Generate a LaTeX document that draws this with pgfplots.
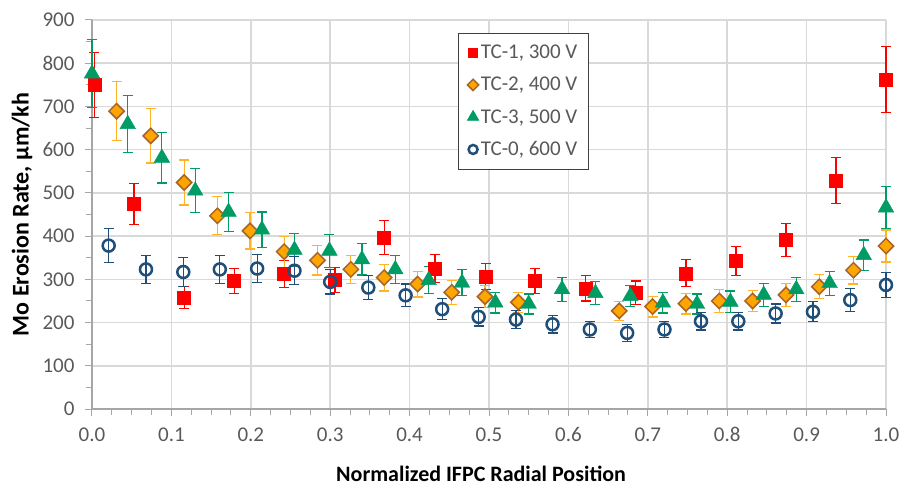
\documentclass[border=0pt]{standalone}
\usepackage{fontspec}
\setmainfont{Carlito}
\usepackage{pgfplots}
\usepackage{pgfplotstable}
\pgfplotsset{compat=1.18}

\definecolor{tcred}{RGB}{255,0,0}
\definecolor{tcorange}{RGB}{255,165,0}
\definecolor{tcbrown}{RGB}{166,100,40}
\definecolor{tcorbar}{RGB}{255,180,40}
\definecolor{tcgreen}{RGB}{0,156,100}
\definecolor{tcblue}{RGB}{31,78,121}
\definecolor{gridgray}{RGB}{217,217,217}
\definecolor{axgray}{RGB}{166,166,166}
\definecolor{txtgray}{RGB}{89,89,89}

% TC-1, 300 V
\pgfplotstableread{
x y e
0.003 750 75
0.053 474 48
0.116 258 26
0.179 296 29
0.242 313 31
0.306 298 29
0.368 397 40
0.432 325 32
0.496 306 30
0.558 296 29
0.622 279 29
0.685 269 27
0.748 314 31
0.811 342 34
0.874 391 39
0.937 529 53
1.000 762 76
}\tcone

% TC-2, 400 V
\pgfplotstableread{
x y e
0.031 689 68
0.074 632 63
0.116 524 52
0.158 447 44
0.199 412 42
0.242 364 36
0.284 344 34
0.326 323 32
0.368 304 31
0.410 289 30
0.453 270 28
0.495 260 25
0.537 247 23
0.664 227 22
0.706 237 24
0.748 244 24
0.790 250 26
0.832 250 25
0.874 264 27
0.916 283 28
0.959 321 32
1.000 377 37
}\tctwo

% TC-3, 500 V
\pgfplotstableread{
x y e
0.000 776 78
0.045 659 66
0.088 581 58
0.130 505 51
0.172 456 45
0.214 415 41
0.255 368 38
0.299 366 38
0.340 346 36
0.382 323 32
0.424 298 31
0.466 292 30
0.508 246 24
0.550 243 23
0.592 277 28
0.634 268 27
0.678 261 24
0.719 246 24
0.762 243 23
0.804 248 25
0.846 264 26
0.887 277 28
0.929 291 28
0.972 356 35
1.000 466 48
}\tcthree

% TC-0, 600 V
\pgfplotstableread{
x y e
0.021 378 39
0.068 323 32
0.115 317 33
0.161 323 33
0.208 325 33
0.255 320 32
0.300 294 28
0.348 281 28
0.395 263 26
0.441 231 24
0.487 213 21
0.534 207 20
0.580 196 20
0.627 184 18
0.674 176 19
0.721 184 18
0.767 203 20
0.814 203 20
0.861 221 22
0.908 225 23
0.955 252 26
1.000 287 29
}\tczero

\begin{document}
\begin{tikzpicture}
\path[use as bounding box] (-92pt,-78pt) rectangle (812pt,409pt);
\begin{axis}[
  scale only axis,
  width=794pt, height=389pt,
  xmin=0, xmax=1, ymin=0, ymax=900,
  xtick={0,0.1,...,1.0},
  ytick={0,100,...,900},
  minor x tick num=3,
  minor y tick num=1,
  axis x line*=bottom, axis y line*=left,
  axis line style={axgray, line width=1.3pt, -},
  tick align=outside,
  major tick length=7pt, minor tick length=6pt,
  every tick/.style={axgray, line width=1pt},
  grid=major,
  major grid style={gridgray, line width=1.5pt},
  clip=false,
  tick label style={font=\fontsize{21}{25}\selectfont, text=txtgray},
  /pgf/number format/assume math mode=true,
  xticklabel style={yshift=-8pt, /pgf/number format/.cd, fixed, fixed zerofill, precision=1},
  yticklabel style={xshift=-7pt, /pgf/number format/.cd, fixed},
  xlabel={\bfseries Normalized IFPC Radial Position},
  ylabel={\bfseries Mo Erosion Rate, µm/kh},
  every axis x label/.style={at={(axis description cs:0.49,-0.167)}, anchor=center,
    font=\fontsize{22}{26}\selectfont},
  every axis y label/.style={at={(axis description cs:-0.088,0.5)}, rotate=90, anchor=center,
    font=\fontsize{24}{28}\selectfont},
  legend style={at={(axis description cs:0.461,0.967)}, anchor=north west,
    draw=black!75, line width=0.8pt, font=\fontsize{21}{25}\selectfont, text=txtgray,
    row sep=13pt, inner xsep=9pt, inner ysep=10pt, fill=white},
  legend cell align=left,
  legend image code/.code={\draw[#1] plot coordinates {(0.25cm,0cm)};},
]
\addplot+[only marks, mark=square*, mark size=6.5pt, color=tcred,
  mark options={fill=tcred, draw=tcred},
  legend image post style={mark size=4.5pt},
  error bars/.cd, y dir=both, y explicit,
  error bar style={tcred, line width=1.2pt},
  error mark options={rotate=90, mark size=5pt, tcred, line width=1.2pt}]
  table[x=x, y=y, y error=e] {\tcone};
\addlegendentry{TC-1, 300 V}

\addplot+[only marks, mark=square*, mark size=5.4pt, color=tcorbar,
  mark options={rotate=45, fill=tcorange, draw=tcbrown, line width=1.5pt},
  legend image post style={mark size=4pt},
  error bars/.cd, y dir=both, y explicit,
  error bar style={tcorbar, line width=1.2pt},
  error mark options={rotate=90, mark size=5pt, tcorbar, line width=1.2pt}]
  table[x=x, y=y, y error=e] {\tctwo};
\addlegendentry{TC-2, 400 V}

\addplot+[only marks, mark=triangle*, mark size=9pt, color=tcgreen,
  mark options={fill=tcgreen, draw=tcgreen},
  legend image post style={mark size=6.5pt},
  error bars/.cd, y dir=both, y explicit,
  error bar style={tcgreen, line width=1.2pt},
  error mark options={rotate=90, mark size=5pt, tcgreen, line width=1.2pt}]
  table[x=x, y=y, y error=e] {\tcthree};
\addlegendentry{TC-3, 500 V}

\addplot+[only marks, mark=o, mark size=6pt, color=tcblue,
  mark options={draw=tcblue, fill=none, line width=2.5pt},
  legend image post style={mark size=4.5pt},
  error bars/.cd, y dir=both, y explicit,
  error bar style={tcblue, line width=1.2pt},
  error mark options={rotate=90, mark size=5pt, tcblue, line width=1.2pt}]
  table[x=x, y=y, y error=e] {\tczero};
\addlegendentry{TC-0, 600 V}
\end{axis}
\end{tikzpicture}
\end{document}
